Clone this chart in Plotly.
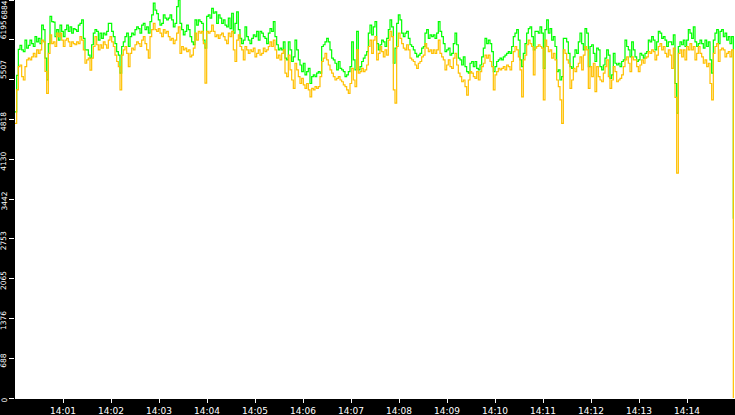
import pandas as pd
import plotly.graph_objects as go

# one reading roughly every 2 s from 14:00:00 to 14:15:00
green = [4950, 5580, 6030, 6100, 6020, 5990, 6190, 6050, 6100, 6190,
         6130, 6080, 6250, 6160, 6220, 6130, 6450, 6370, 5880, 5500,
         6130, 6600, 6510, 6500, 6250, 6370, 6190, 6450, 6340, 6250,
         6370, 6450, 6340, 6420, 6310, 6390, 6370, 6340, 6450, 6480,
         6540, 6220, 6020, 6020, 5930, 5880, 6110, 6310, 6370, 6340,
         6190, 6310, 6220, 6310, 6280, 6340, 6480, 6480, 6340, 6250,
         6130, 5990, 5930, 5620, 6080, 6160, 6250, 6310, 6080, 6250,
         6310, 6280, 6370, 6420, 6390, 6310, 6450, 6480, 6370, 6420,
         6310, 6510, 6625, 6830, 6710, 6650, 6540, 6450, 6480, 6625,
         6570, 6540, 6570, 6625, 6540, 6420, 6480, 6770, 6885, 6480,
         6370, 6280, 6340, 6450, 6370, 6250, 6160, 6110,
         6540, 6450, 6540, 6510, 6480, 6190, 6050, 6600, 6625, 6570,
         6740, 6655, 6680, 6480, 6625, 6570, 6480, 6540, 6450, 6420,
         6570, 6390, 6655, 6310, 6480, 6680, 6370, 6220, 6130, 6190,
         6420, 6250, 6190, 6130, 6220, 6280, 6250, 6340, 6190, 6340,
         6310, 6250, 6220, 6130, 6310, 6390, 6340, 6510, 6250, 6110,
         6020, 6050, 6020, 6160, 5880, 5850, 6160, 6020, 5820, 5900,
         6190, 6020, 5850, 5760, 5645, 5790, 5590, 5645, 5700, 5440,
         5560, 5590, 5560, 5620, 5645, 5620, 6080, 6110, 6160, 6220,
         6160, 6020, 5880, 5850, 5790, 5675, 5820, 5700, 5675, 5645,
         5560, 5590, 5645, 5730, 6160, 5850, 5675, 6340, 5675, 5730,
         5820, 5880, 5930, 5990, 6310, 6450, 6280, 6420,
         6510, 6130, 6020, 6110, 6190, 6160, 6080, 6220, 6370, 6540,
         6420, 5790, 6050, 6480, 6625, 6540, 6310, 6250, 6310, 6340,
         6220, 6110, 6080, 6020, 5960, 5900, 5930, 5960, 6050, 6080,
         6310, 6370, 6220, 6280, 6250, 6280, 6220, 6310, 6510, 6340,
         6250, 6130, 5990, 6020, 6050, 5930, 5960, 6130, 6310, 6110,
         5880, 5850, 5760, 5900, 5730, 5645, 5620, 5790, 5820, 5730,
         5820, 5700, 5675, 5760, 5900, 6050, 6220, 6130, 6190, 6130,
         5990, 5645, 5730, 5820, 5850, 5880, 5850, 5900, 5930, 5960,
         5990, 5960, 6080, 6250, 6310, 6370, 6190, 5850, 5730, 5960,
         6130, 6310, 6390, 6420, 6250, 6020, 6340, 6340, 6310, 6420,
         6310, 5700, 6370, 6540, 6310, 6390, 6190, 6250,
         6080, 5645, 5675, 5500, 5560, 6220, 6220, 6160, 5960, 5730,
         5700, 5900, 6020, 5960, 6160, 6310, 6130, 6020, 6390, 6310,
         5730, 6080, 6110, 5960, 5820, 6050, 6020, 5730, 5675, 5760,
         5880, 6020, 5930, 5530, 5590, 5960, 5790, 5760, 5790, 5730,
         5820, 5850, 6190, 6080, 6020, 5900, 6160, 6020, 5900, 5820,
         5850, 5960, 5930, 5880, 5960, 5990, 6190, 6160, 6250, 6190,
         6020, 6160, 6340, 6310, 6220, 6250, 6190, 6080, 6160, 6160,
         6110, 6280, 5440, 4925, 6080, 6160, 6110, 6190, 6080, 6190,
         6370, 6310, 6220, 6420, 6160, 6080, 6130, 6190, 6130, 6050,
         6190, 6080, 6160, 5850, 5620, 6190, 6310, 6370, 6130, 6340,
         6370, 6250, 6310, 6190, 6250, 6130, 6250, 3100]

orange = [4750, 5330, 5730, 5760, 5560, 5500, 5730, 5850, 5880, 5850,
          5900, 5960, 5900, 6020, 5960, 6020, 6190, 6160, 5650, 5270,
          5960, 6280, 6130, 6160, 6080, 6310, 6250, 6310, 6190, 6080,
          6190, 6220, 6160, 6080, 6160, 6130, 6110, 6160, 6130, 6250,
          6190, 6020, 5790, 5850, 5880, 5670, 5880, 6080, 6250, 6110,
          6020, 6110, 6050, 6160, 6110, 6050, 6190, 6250, 6160, 6080,
          5930, 5820, 5730, 5330, 5930, 6020, 6080, 5960, 5730, 5960,
          6050, 6020, 6110, 6160, 6130, 6080, 6190, 6250, 6130, 6020,
          5880, 6250, 6370, 6480, 6370, 6340, 6390, 6310, 6250, 6370,
          6310, 6340, 6250, 6190, 6220, 6130, 6190, 6310, 6420, 5960,
          6080, 6020, 6050, 5990, 6020, 5900, 5930, 6050,
          6310, 6190, 6340, 6310, 6340, 6130, 5445, 6340, 6310, 6340,
          6450, 6340, 6250, 6280, 6220, 6280, 6310, 6250, 6190, 6130,
          6310, 6250, 6340, 6020, 5820, 6190, 6280, 6080, 6020, 5850,
          6080, 6020, 5960, 6020, 5990, 6050, 5900, 5960, 6020, 5930,
          5960, 6050, 5990, 6020, 6080, 6160, 6080, 6190, 6020, 5880,
          5930, 5850, 5960, 6020, 5620, 5560, 5930, 5675, 5500, 5355,
          5790, 5675, 5560, 5440, 5530, 5415, 5355, 5440, 5330, 5210,
          5355, 5330, 5385, 5355, 5385, 5560, 5820, 5880, 5960, 5850,
          5760, 5675, 5620, 5560, 5500, 5530, 5560, 5500, 5470, 5415,
          5385, 5330, 5270, 5440, 5700, 5500, 5385, 6020, 5620, 5645,
          5700, 5645, 5675, 5760, 6080, 6190, 5960, 6190,
          6250, 5850, 5960, 6080, 5990, 5900, 6020, 5930, 6190, 6340,
          6250, 5330, 5100, 6080, 6310, 6220, 6130, 6050, 6020, 6110,
          6020, 5880, 5850, 5820, 5760, 5700, 5790, 5820, 5900, 5930,
          6130, 6050, 5990, 6020, 5960, 6020, 5960, 6020, 6190, 5960,
          5900, 5850, 5675, 5760, 5850, 5730, 5700, 5880, 5960, 5760,
          5620, 5560, 5470, 5500, 5385, 5240, 5500, 5645, 5620, 5560,
          5530, 5645, 5500, 5645, 5730, 5790, 5930, 5880, 5930, 5820,
          5730, 5330, 5590, 5645, 5700, 5675, 5700, 5730, 5675, 5760,
          5730, 5675, 5820, 5990, 6080, 6020, 5900, 5675, 5210, 5850,
          5930, 6110, 6190, 6130, 6080, 5590, 6050, 6080, 6110, 6080,
          6050, 5155, 6190, 6080, 5990, 6020, 5880, 5960,
          5850, 5500, 5385, 5155, 4750, 6020, 5960, 5850, 5790, 5355,
          5500, 5700, 5645, 5730, 5790, 5900, 5675, 5930, 6080, 6020,
          5355, 5730, 5560, 5790, 5300, 5730, 5560, 5500, 5470, 5620,
          5730, 5850, 5560, 5355, 5500, 5730, 5645, 5470, 5500, 5530,
          5590, 5730, 5850, 5900, 5790, 5645, 5900, 5850, 5850, 5730,
          5645, 5760, 5850, 5790, 5880, 5900, 5990, 5960, 6020, 5990,
          5850, 5930, 6080, 6130, 6020, 6080, 5960, 5900, 6020, 5930,
          5700, 6050, 5200, 3890, 5960, 6020, 5900, 6020, 5850, 6080,
          6020, 6130, 6020, 6080, 5850, 5960, 6080, 5960, 5900, 5790,
          5850, 5730, 5790, 5440, 5155, 5960, 6080, 6130, 5820, 6020,
          6050, 6020, 5900, 5960, 5990, 5900, 6020, 0]

y_ticks = [0, 688, 1376, 2065, 2753, 3442, 4130, 4818, 5507, 6195, 6884]
x_ticks = ['14:01', '14:02', '14:03', '14:04', '14:05', '14:06', '14:07',
           '14:08', '14:09', '14:10', '14:11', '14:12', '14:13', '14:14']

day = '2024-01-01 '
times = pd.date_range(day + '14:00:00', day + '14:15:00', periods=len(green) + 1)[:-1]
tickvals = [pd.Timestamp(day + t) for t in x_ticks]

fig = go.Figure()
fig.add_trace(go.Scatter(x=times, y=green, mode='lines', line_shape='hv',
                         line=dict(color='#00ff00', width=1.2), showlegend=False))
fig.add_trace(go.Scatter(x=times, y=orange, mode='lines', line_shape='hv',
                         line=dict(color='#ffc000', width=1.2), showlegend=False))

# rotated y labels; the original nudges the top ones to keep them inside
for v in y_ticks:
    if v == y_ticks[-1]:
        shift = -10
    elif v >= y_ticks[-3]:
        shift = 10
    else:
        shift = -2
    fig.add_annotation(text=str(v), xref='paper', yref='y', x=0, y=v,
                       xanchor='right', yanchor='middle', xshift=-5, yshift=shift,
                       textangle=-90, showarrow=False,
                       font=dict(family='DejaVu Sans', size=7.5, color='white'))

fig.update_xaxes(range=[pd.Timestamp(day + '14:00:00'), pd.Timestamp(day + '14:15:00')],
                 tickvals=tickvals, ticktext=x_ticks, automargin=False,
                 ticks='outside', ticklen=4, tickcolor='white', showgrid=False,
                 showline=True, linecolor='white', zeroline=False,
                 tickfont=dict(family='DejaVu Sans', size=9, color='white'))
fig.update_yaxes(range=[0, 6884], tickvals=y_ticks, showticklabels=False,
                 automargin=False, ticks='outside', ticklen=5, tickcolor='white',
                 showgrid=False, showline=False, zeroline=False)

fig.update_layout(width=735, height=415, margin=dict(l=15, r=0, t=0, b=17),
                  paper_bgcolor='black', plot_bgcolor='white')

fig.write_html('out.html', config={'displayModeBar': False},
               post_script="document.body.style.margin='0';")
